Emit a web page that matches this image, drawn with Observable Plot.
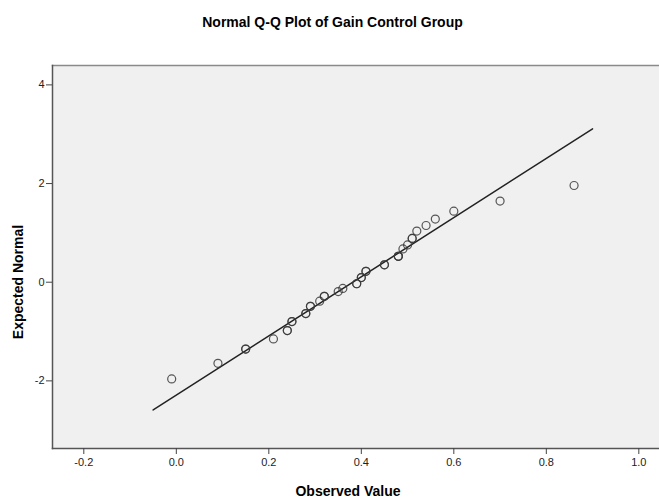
<!DOCTYPE html>
<html><head><meta charset="utf-8">
<script src="https://cdn.jsdelivr.net/npm/d3@7"></script>
<script src="https://cdn.jsdelivr.net/npm/@observablehq/plot@0.6"></script>
<style>
body{margin:0;background:#fff;font-family:Arial,"Liberation Sans",sans-serif;}
#wrap{position:relative;width:659px;height:501px;overflow:hidden;}
#title{height:44px;line-height:44px;text-align:center;font-weight:bold;font-size:14px;color:#000;padding-left:6px;}
#chart{height:457px;}
.lab{position:absolute;font-weight:bold;font-size:14px;color:#000;white-space:nowrap;}
#ylab{left:18px;top:282px;transform:translate(-50%,-50%) rotate(-90deg);}
#xlab{left:348px;top:491px;transform:translate(-50%,-50%);}
</style></head><body>
<div id="wrap">
<div id="title"></div>
<div id="chart"></div>
<div id="ylab" class="lab"></div>
<div id="xlab" class="lab"></div>
</div>
<script>
const titleText = "Normal Q-Q Plot of Gain Control Group";
const xLabel = "Observed Value";
const yLabel = "Expected Normal";
const observed = [-0.01, 0.09, 0.15, 0.15, 0.21, 0.24, 0.24, 0.25, 0.25, 0.28, 0.28, 0.29, 0.29,
  0.31, 0.32, 0.32, 0.35, 0.36, 0.39, 0.39, 0.40, 0.40, 0.41, 0.41, 0.45, 0.45, 0.48, 0.48, 0.48,
  0.49, 0.50, 0.51, 0.51, 0.52, 0.54, 0.56, 0.60, 0.70, 0.86];
const expected = [-1.96, -1.645, -1.356, -1.356, -1.15, -0.981, -0.981, -0.798, -0.798, -0.636, -0.636, -0.489, -0.489,
  -0.385, -0.287, -0.287, -0.189, -0.126, -0.031, -0.031, 0.094, 0.094, 0.22, 0.22, 0.352, 0.352, 0.524, 0.524, 0.524,
  0.674, 0.755, 0.887, 0.887, 1.036, 1.15, 1.28, 1.44, 1.645, 1.96];
// Reference line endpoints
const lineObserved = [-0.05, 0.90];
const lineExpected = [-2.59, 3.11];
const xTicks = [-0.2, 0.0, 0.2, 0.4, 0.6, 0.8, 1.0];
const yTicks = [-2, 0, 2, 4];
const xDomain = [-0.2677, 1.0447];
const yDomain = [-3.371, 4.393];

document.getElementById("title").textContent = titleText;
document.getElementById("xlab").textContent = xLabel;
document.getElementById("ylab").textContent = yLabel;

const points = observed.map((x, i) => ({x, y: expected[i]}));
const line = lineObserved.map((x, i) => ({x, y: lineExpected[i]}));

const chart = Plot.plot({
  width: 659, height: 457,
  marginTop: 21, marginBottom: 53, marginLeft: 52, marginRight: 0,
  style: {fontFamily: 'Arial, "Liberation Sans", sans-serif', fontSize: "11px", color: "#222", background: "transparent", overflow: "visible"},
  x: {domain: xDomain},
  y: {domain: yDomain},
  marks: [
    Plot.frame({fill: "#f0f0f0", stroke: null}),
    Plot.frame({anchor: "top", stroke: "#8a8a8a", strokeWidth: 1.5}),
    Plot.frame({anchor: "left", stroke: "#555", strokeWidth: 1.5}),
    Plot.frame({anchor: "bottom", stroke: "#555", strokeWidth: 1.5}),
    Plot.axisX({ticks: xTicks, tickFormat: d => d.toFixed(1), tickSize: 6, tickPadding: 4, stroke: "#444", label: null}),
    Plot.axisY({ticks: yTicks, tickFormat: d => String(d), tickSize: 6, tickPadding: 2, stroke: "#444", label: null}),
    Plot.line(line, {x: "x", y: "y", stroke: "#222", strokeWidth: 1.5}),
    Plot.dot(points, {x: "x", y: "y", r: 4, stroke: "#3a3a3a", strokeWidth: 1.2, fill: "none", strokeOpacity: 0.85})
  ]
});
document.getElementById("chart").appendChild(chart);
</script>
</body></html>
